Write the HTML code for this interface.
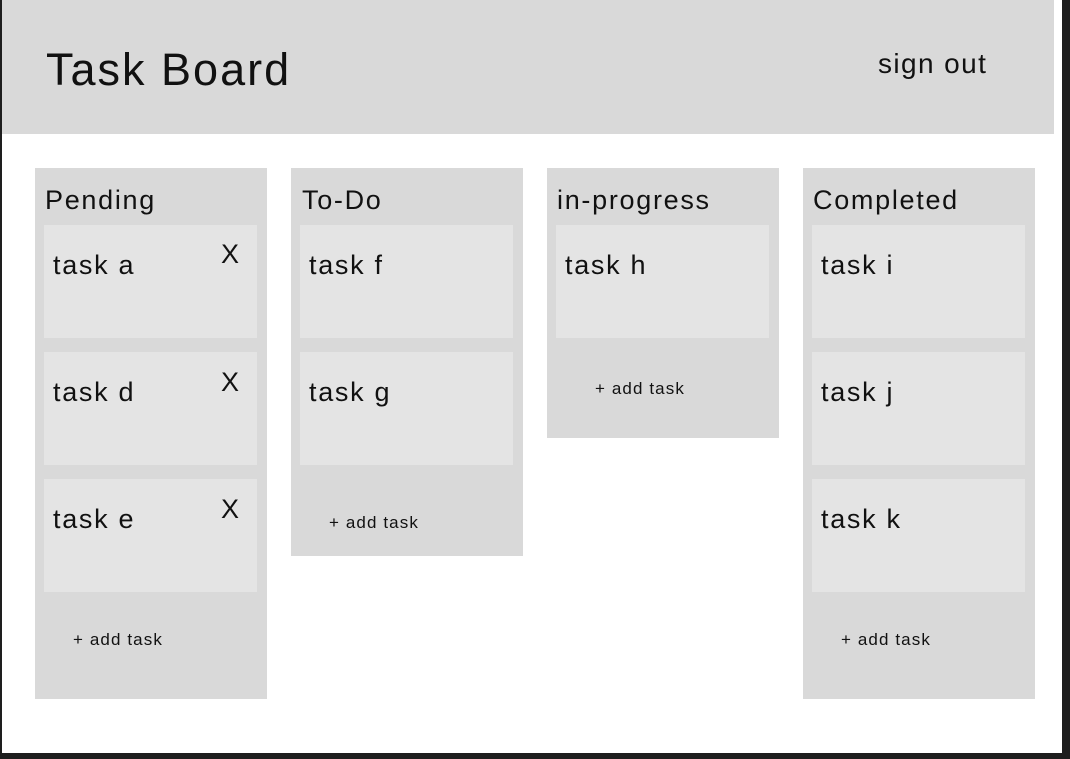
<!DOCTYPE html>
<html><head><style>
*{margin:0;padding:0;box-sizing:border-box}
body{width:1070px;height:759px;position:relative;background:#fff;font-family:"Liberation Sans",sans-serif;color:#111;overflow:hidden}
.a{position:absolute}
.hdr{left:2px;top:0;width:1052px;height:134px;background:#d9d9d9}
.col{background:#d9d9d9;width:232px}
.card{background:#e4e4e4;width:213px;height:113px}
.t{font-size:27px;white-space:nowrap;letter-spacing:1.7px}
.s{font-size:17px;white-space:nowrap;letter-spacing:1.1px}
</style></head><body>
<div class="a" style="left:0;top:0;width:2px;height:759px;background:#1e1e1e"></div>
<div class="a" style="left:1062px;top:0;width:8px;height:759px;background:#1e1e1e"></div>
<div class="a" style="left:0;top:753px;width:1070px;height:6px;background:#1e1e1e"></div>
<div class="a hdr"></div>
<div class="a" style="left:46px;top:44px;font-size:45px;letter-spacing:2px">Task Board</div>
<div class="a" style="left:878px;top:48px;font-size:28px;letter-spacing:1.4px">sign out</div>

<div class="a col" style="left:35px;top:168px;height:531px"></div>
<div class="a col" style="left:291px;top:168px;height:388px"></div>
<div class="a col" style="left:547px;top:168px;height:270px"></div>
<div class="a col" style="left:803px;top:168px;height:531px"></div>

<div class="a t" style="left:45px;top:185px">Pending</div>
<div class="a t" style="left:302px;top:185px">To-Do</div>
<div class="a t" style="left:557px;top:185px">in-progress</div>
<div class="a t" style="left:813px;top:185px">Completed</div>

<div class="a card" style="left:44px;top:225px"></div>
<div class="a card" style="left:44px;top:352px"></div>
<div class="a card" style="left:44px;top:479px"></div>
<div class="a card" style="left:300px;top:225px"></div>
<div class="a card" style="left:300px;top:352px"></div>
<div class="a card" style="left:556px;top:225px"></div>
<div class="a card" style="left:812px;top:225px"></div>
<div class="a card" style="left:812px;top:352px"></div>
<div class="a card" style="left:812px;top:479px"></div>

<div class="a t" style="left:53px;top:250px">task a</div>
<div class="a t" style="left:53px;top:377px">task d</div>
<div class="a t" style="left:53px;top:504px">task e</div>
<div class="a t" style="left:221px;top:239px">X</div>
<div class="a t" style="left:221px;top:367px">X</div>
<div class="a t" style="left:221px;top:494px">X</div>
<div class="a t" style="left:309px;top:250px">task f</div>
<div class="a t" style="left:309px;top:377px">task g</div>
<div class="a t" style="left:565px;top:250px">task h</div>
<div class="a t" style="left:821px;top:250px">task i</div>
<div class="a t" style="left:821px;top:377px">task j</div>
<div class="a t" style="left:821px;top:504px">task k</div>

<div class="a s" style="left:73px;top:630px">+ add task</div>
<div class="a s" style="left:329px;top:513px">+ add task</div>
<div class="a s" style="left:595px;top:379px">+ add task</div>
<div class="a s" style="left:841px;top:630px">+ add task</div>
</body></html>
